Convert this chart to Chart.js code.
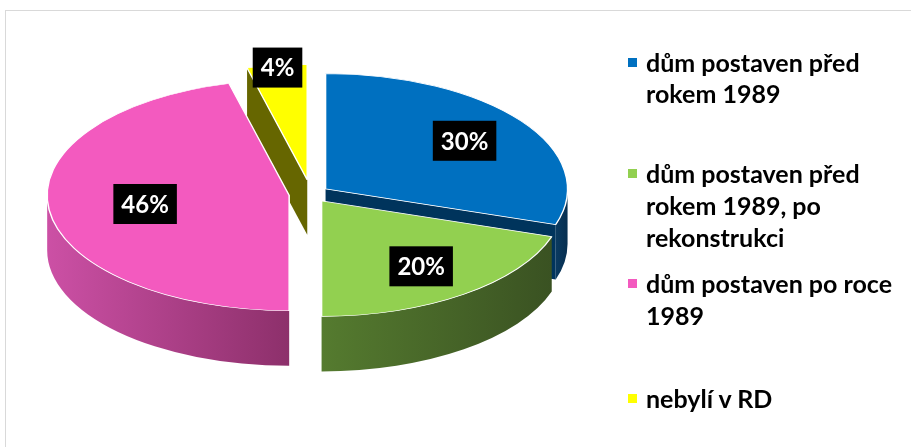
<!DOCTYPE html>
<html>
<head>
<meta charset="utf-8">
<script src="https://cdn.jsdelivr.net/npm/chart.js@4.4.1/dist/chart.umd.min.js"></script>
<style>
  body { margin: 0; background: #fff; font-family: Lato, sans-serif; }
  #wrap { position: relative; width: 911px; height: 447px; overflow: hidden; }
  #frame { position: absolute; left: 5px; top: 10px; width: 940px; height: 460px; border: 1px solid #d9d9d9; }
  #chart { position: absolute; left: 0; top: 0; }
  #legend { position: absolute; left: 646px; top: 0; width: 262px; }
  .item { position: absolute; left: 0; width: 262px; font-weight: 700; font-size: 25px; line-height: 31.7px; color: #000; }
  .item i { position: absolute; left: -18px; top: 11px; width: 9px; height: 9px; }
</style>
</head>
<body>
<div id="wrap">
  <div id="frame"></div>
  <canvas id="chart" width="911" height="447"></canvas>
  <div id="legend"></div>
</div>
<script>
const categories = [
  'dům postaven před rokem 1989',
  'dům postaven před rokem 1989, po rekonstrukci',
  'dům postaven po roce 1989',
  'nebylí v RD'
];
const shares = [30, 20, 46, 4];
const shareLabels = ['30%', '20%', '46%', '4%'];

// look of the fake 3D pie
const topColors = ['#0070c0', '#92d050', '#f35abf', '#ffff00'];
const wallColors = [['#0a3a60', '#072f50'], ['#557b2f', '#3a5222'], ['#cc50a5', '#8d306b'], ['#7a7a00', '#666600']];
const faceColors = ['#00345c', '#3a5222', '#8d306b', '#666600'];
const explode = [18, 18, 22, 30];
const labelFactor = [0.71, 0.7, 0.6, 0.98];
const legendTops = [46.6, 158.2, 268.2, 383.2];
const tilt = 0.477;
const depth = 55;

const pie3d = {
  id: 'pie3d',
  afterDatasetUpdate(chart) {
    chart.getDatasetMeta(0).data.forEach((arc, i) => {
      const h = (arc.startAngle + arc.endAngle) / 2;
      arc.x += explode[i] * Math.cos(h);
      arc.y += explode[i] * Math.sin(h);
    });
  },
  beforeDatasetsDraw(chart) {
    const ctx = chart.ctx;
    const cy = (chart.chartArea.top + chart.chartArea.bottom) / 2;
    const d = depth / tilt;
    ctx.save();
    ctx.translate(0, cy);
    ctx.scale(1, tilt);
    ctx.translate(0, -cy);

    chart.getDatasetMeta(0).data.forEach((arc, i) => {
      const {x, y, startAngle: a0, endAngle: a1, outerRadius: r} = arc;

      // cut faces turned towards the viewer
      const cuts = [];
      if (Math.cos(a1) > 0.01) cuts.push(a1);
      if (Math.cos(a0) < -0.01) cuts.push(a0);
      cuts.forEach(a => {
        ctx.beginPath();
        ctx.moveTo(x, y);
        ctx.lineTo(x + r * Math.cos(a), y + r * Math.sin(a));
        ctx.lineTo(x + r * Math.cos(a), y + r * Math.sin(a) + d);
        ctx.lineTo(x, y + d);
        ctx.closePath();
        ctx.fillStyle = faceColors[i];
        ctx.fill();
      });

      // outer wall, front half only
      const s = Math.max(a0, 0), e = Math.min(a1, Math.PI);
      if (e > s) {
        ctx.beginPath();
        ctx.arc(x, y, r, s, e);
        ctx.arc(x, y + d, r, e, s, true);
        ctx.closePath();
        const xs = [x + r * Math.cos(s), x + r * Math.cos(e)];
        const g = ctx.createLinearGradient(Math.min(...xs), 0, Math.max(...xs), 0);
        g.addColorStop(0, wallColors[i][0]);
        g.addColorStop(1, wallColors[i][1]);
        ctx.fillStyle = g;
        ctx.fill();
      }
    });
  },
  afterDatasetsDraw(chart) {
    const ctx = chart.ctx;
    ctx.restore();
    const cy = (chart.chartArea.top + chart.chartArea.bottom) / 2;
    ctx.save();
    ctx.font = 'bold 24px Lato';
    ctx.textAlign = 'center';
    ctx.textBaseline = 'middle';
    chart.getDatasetMeta(0).data.forEach((arc, i) => {
      const h = (arc.startAngle + arc.endAngle) / 2;
      const rr = arc.outerRadius * labelFactor[i];
      const lx = arc.x + Math.cos(h) * rr;
      const ly = cy + (arc.y + Math.sin(h) * rr - cy) * tilt;
      const w = ctx.measureText(shareLabels[i]).width + 16;
      ctx.fillStyle = '#000';
      ctx.fillRect(lx - w / 2, ly - 20, w, 40);
      ctx.fillStyle = '#fff';
      ctx.fillText(shareLabels[i], lx, ly + 1);
    });
    ctx.restore();
  }
};

new Chart(document.getElementById('chart'), {
  type: 'pie',
  data: {
    labels: categories,
    datasets: [{
      data: shares,
      backgroundColor: topColors,
      borderColor: '#ffffff',
      borderWidth: 1.5,
      clip: false
    }]
  },
  options: {
    responsive: false,
    animation: false,
    events: [],
    radius: 242,
    layout: { padding: { left: 0, top: 2, right: 289, bottom: 61 } },
    plugins: { legend: { display: false }, tooltip: { enabled: false } }
  },
  plugins: [pie3d]
});

const legend = document.getElementById('legend');
categories.forEach((c, i) => {
  const item = document.createElement('div');
  item.className = 'item';
  item.style.top = legendTops[i] + 'px';
  item.innerHTML = '<i style="background:' + topColors[i] + '"></i>' + c;
  legend.appendChild(item);
});
</script>
</body>
</html>
